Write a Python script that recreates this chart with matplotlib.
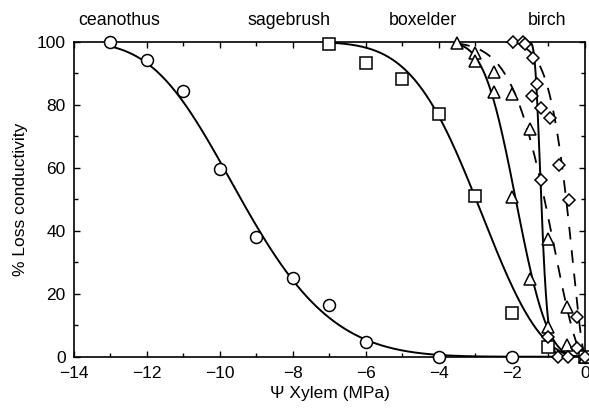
import numpy as np
import matplotlib
matplotlib.use("Agg")
import matplotlib.pyplot as plt
from matplotlib.ticker import MultipleLocator

plt.rcParams['font.family'] = ['Liberation Sans', 'DejaVu Sans']
plt.rcParams['font.size'] = 12.5

# ---- data ----
species = ["ceanothus", "sagebrush", "boxelder", "birch"]
label_x = [-12.75, -8.1, -4.45, -1.05]

ceanothus_x = [-13, -12, -11, -10, -9, -8, -7, -6, -4, -2, 0]
ceanothus_y = [100, 94.2, 84.4, 59.5, 37.9, 25, 16.4, 4.6, 0, 0, 0]

sagebrush_x = [-7, -6, -5, -4, -3, -2, -1, 0]
sagebrush_y = [99.3, 93.1, 88.3, 77.1, 51, 14, 3.2, 0]

boxelder_a_x = [-3.5, -3, -3, -2.5, -2, -1.5, -1, -0.5, 0]
boxelder_a_y = [99.7, 96.5, 93.9, 83.9, 50.8, 24.6, 9.5, 3.7, 0]
boxelder_b_x = [-2.5, -2, -1.5, -1, -0.5]
boxelder_b_y = [90.5, 83.3, 72.3, 37.3, 15.7]

birch_a_x = [-1.96, -1.71, -1.43, -1.32, -1.46, -1.2, -1.0, -0.73, 0]
birch_a_y = [99.9, 100, 94.9, 86.5, 82.8, 56.2, 6.3, 0, 0]
birch_b_x = [-1.64, -1.21, -0.96, -0.7, -0.45, -0.22, -0.22, -0.47]
birch_b_y = [99.2, 79, 75.9, 60.9, 49.7, 12.5, 2.7, 0]

# fitted Weibull curve parameters (b, c) and plotted range start
fit_b = {"ceanothus": 10.06, "sagebrush": 3.46, "boxelder_a": 2.128,
         "boxelder_b": 1.37, "birch_a": 1.245, "birch_b": 0.659}
fit_c = {"ceanothus": 5.6, "sagebrush": 2.5, "boxelder_a": 3.215,
         "boxelder_b": 1.75, "birch_a": 10.0, "birch_b": 1.5}
fit_start = {"ceanothus": -13, "sagebrush": -7, "boxelder_a": -3.5,
             "boxelder_b": -3.5, "birch_a": -1.96, "birch_b": -1.64}
fit_style = {"ceanothus": "-", "sagebrush": "-", "boxelder_a": "-",
             "boxelder_b": "--", "birch_a": "-", "birch_b": "--"}


def weibull(psi, b, c):
    p = -np.asarray(psi)
    return 100.0 * (1.0 - np.exp(-(p / b) ** c))


fig = plt.figure(figsize=(5.89, 4.08), dpi=100)
ax = fig.add_axes([0.1256, 0.1257, 0.8676, 0.7721])

for key in fit_b:
    xs = np.linspace(fit_start[key], 0, 400)
    ys = weibull(xs, fit_b[key], fit_c[key])
    if fit_style[key] == "--":
        ax.plot(xs, ys, color="black", lw=1.3, dashes=(7, 6))
    else:
        ax.plot(xs, ys, color="black", lw=1.4)

mk = dict(linestyle="none", markerfacecolor="white", markeredgecolor="black",
          markeredgewidth=1.1, clip_on=False, zorder=3)
ax.plot(ceanothus_x, ceanothus_y, marker="o", markersize=8.6, **mk)
ax.plot(sagebrush_x, sagebrush_y, marker="s", markersize=8.4, **mk)
ax.plot(boxelder_a_x, boxelder_a_y, marker="^", markersize=8.6, **mk)
ax.plot(boxelder_b_x, boxelder_b_y, marker="^", markersize=8.6, **mk)
ax.plot(birch_a_x, birch_a_y, marker="D", markersize=6.6, **mk)
ax.plot(birch_b_x, birch_b_y, marker="D", markersize=6.6, **mk)

ax.set_xlim(-14, 0)
ax.set_ylim(0, 100)
ax.xaxis.set_major_locator(MultipleLocator(2))
ax.xaxis.set_minor_locator(MultipleLocator(1))
ax.yaxis.set_major_locator(MultipleLocator(20))
ax.yaxis.set_minor_locator(MultipleLocator(10))
ax.tick_params(which="both", direction="in", top=True, right=True, width=1.0)
ax.tick_params(which="major", length=4, labelsize=12.5)
ax.tick_params(axis="x", which="major", pad=7)
ax.tick_params(axis="y", which="major", pad=6)
ax.tick_params(which="minor", length=3)
for s in ax.spines.values():
    s.set_linewidth(1.2)

ax.set_xlabel("Ψ Xylem (MPa)", fontsize=12.5, labelpad=3)
ax.set_ylabel("% Loss conductivity", fontsize=12.5, labelpad=6)

for name, lx in zip(species, label_x):
    ax.text(lx, 106.6, name, ha="center", va="center", fontsize=12.8, clip_on=False)

fig.savefig("out.png", dpi=100)
